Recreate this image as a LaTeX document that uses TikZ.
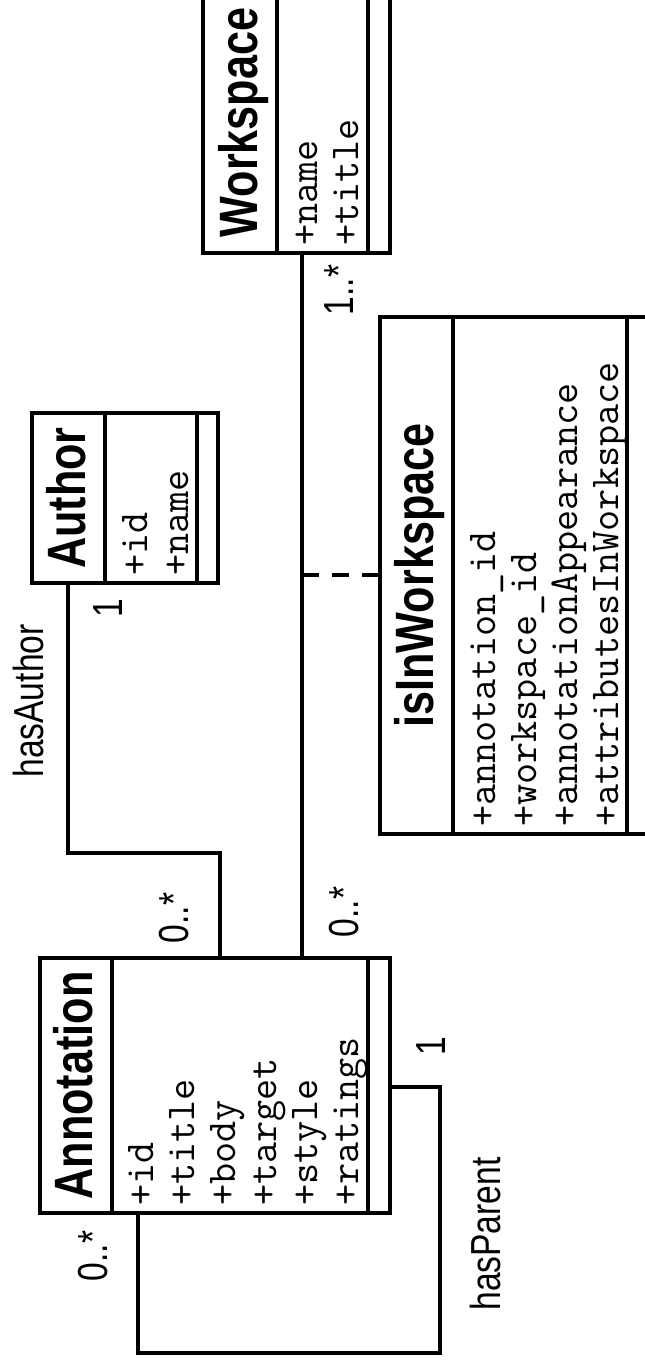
\documentclass[tikz,border=0pt]{standalone}
\usepackage{fontspec}
\setmainfont{Liberation Sans}
\newcommand{\cond}[1]{\scalebox{0.8}[1]{#1}}
\tikzset{
  classbox/.style={draw, line width=4pt, rectangle, inner sep=0pt},
  sepline/.style={line width=4pt},
  assoc/.style={line width=4pt},
  ttl/.style={rotate=90, anchor=base, inner sep=0pt, font=\fontsize{54}{54}\selectfont\bfseries},
  attr/.style={rotate=90, anchor=base west, inner sep=0pt, font=\fontsize{41}{41}\selectfont\ttfamily},
  lbl/.style={rotate=90, anchor=base, inner sep=0pt, font=\fontsize{42}{42}\selectfont},
}
\begin{document}
\begin{tikzpicture}[x=1pt,y=-1pt]
\useasboundingbox (0,0) rectangle (645,1368);
\fill[white] (0,0) rectangle (645,1368);

% class boxes
\node[classbox, minimum width=350pt, minimum height=255pt] (annotation) at (215,1085.5) {};
\node[classbox, minimum width=186pt, minimum height=170pt] (author) at (125,498) {};
\node[classbox, minimum width=187pt, minimum height=261pt] (workspace) at (296.5,122.5) {};
\node[classbox, minimum width=285pt, minimum height=517pt] (isin) at (522.5,575.5) {};

% compartment separators
\coordinate (aS1) at (112,0); \coordinate (aS2) at (368,0);
\coordinate (uS1) at (105,0); \coordinate (uS2) at (197,0);
\coordinate (wS1) at (277,0); \coordinate (wS2) at (368,0);
\coordinate (iS1) at (453,0); \coordinate (iS2) at (627,0);
\draw[sepline] (annotation.north -| aS1) -- (annotation.south -| aS1);
\draw[sepline] (annotation.north -| aS2) -- (annotation.south -| aS2);
\draw[sepline] (author.north -| uS1) -- (author.south -| uS1);
\draw[sepline] (author.north -| uS2) -- (author.south -| uS2);
\draw[sepline] (workspace.north -| wS1) -- (workspace.south -| wS1);
\draw[sepline] (workspace.north -| wS2) -- (workspace.south -| wS2);
\draw[sepline] (isin.north -| iS1) -- (isin.south -| iS1);
\draw[sepline] (isin.north -| iS2) -- (isin.south -| iS2);

% titles
\node[ttl] (tAnn) at (92,1085.5) {\cond{Annotation}};
\node[ttl] (tAut) at (85,498) {\cond{Author}};
\node[ttl] (tWs) at (257,122.5) {\cond{Workspace}};
\node[ttl] (tIn) at (433,575.5) {\cond{isInWorkspace}};

% attributes
\node[attr] (a1) at (153,1206) {+id};
\node[attr] (a2) at (194,1206) {+title};
\node[attr] (a3) at (235,1206) {+body};
\node[attr] (a4) at (276,1206) {+target};
\node[attr] (a5) at (317,1206) {+style};
\node[attr] (a6) at (358,1206) {+ratings};
\node[attr] (u1) at (147,576) {+id};
\node[attr] (u2) at (188,576) {+name};
\node[attr] (w1) at (317,246) {+name};
\node[attr] (w2) at (358,246) {+title};
\node[attr] (i1) at (495,827) {+annotation\_id};
\node[attr] (i2) at (536,827) {+workspace\_id};
\node[attr] (i3) at (577,827) {+annotationAppearance};
\node[attr] (i4) at (618,827) {+attributesInWorkspace};

% connectors
\coordinate (haX) at (68,0); \coordinate (haY) at (0,853); \coordinate (haX2) at (220,0);
\draw[assoc] (author.south -| haX) |- (haX2 |- haY) -- (annotation.north -| haX2);
\coordinate (mainX) at (302,0);
\draw[assoc] (workspace.south -| mainX) -- (annotation.north -| mainX);
\coordinate (dashY) at (0,575);
\draw[line width=3.5pt, dash pattern=on 17pt off 13pt] (mainX |- dashY) -- (isin.west |- dashY);
\coordinate (hpY) at (0,1087); \coordinate (hpX) at (440,0);
\coordinate (hpB) at (0,1353); \coordinate (hpL) at (138,0);
\draw[assoc] (annotation.east |- hpY) -| (hpX |- hpB) -| (annotation.south -| hpL);

% labels
\node[lbl] (lHasA) at (43,701) {\cond{hasAuthor}};
\node[lbl] (lHasP) at (500,1234) {\cond{hasParent}};
\node[lbl] (m1) at (188,918) {\cond{0..*}};
\node[lbl] (m2) at (358,912) {\cond{0..*}};
\node[lbl] (m3) at (107,1256) {\cond{0..*}};
\node[lbl] (m4) at (353,290) {\cond{1..*}};
\node[lbl] (m5) at (122,608) {\cond{1}};
\node[lbl] (m6) at (445,1046) {\cond{1}};
\end{tikzpicture}
\end{document}
